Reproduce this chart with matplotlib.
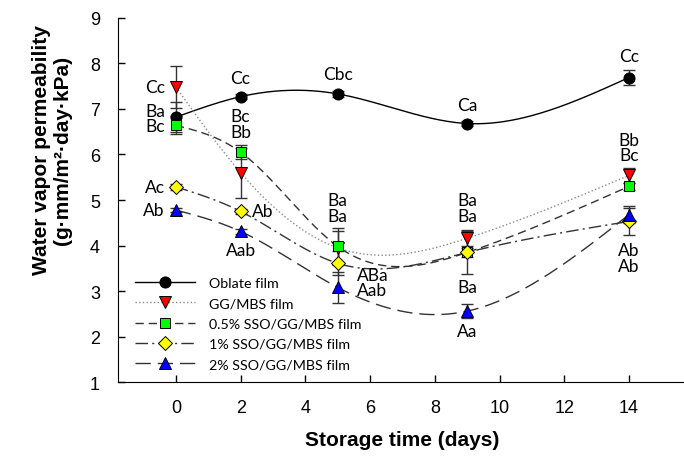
import numpy as np
from matplotlib import pyplot as plt
from matplotlib.lines import Line2D

days = [0, 2, 5, 9, 14]

oblate = [6.82, 7.27, 7.33, 6.68, 7.69]
oblate_err = [0.33, 0.06, 0.06, 0.05, 0.17]

ggmbs = [7.48, 5.60, 3.95, 4.16, 5.54]
ggmbs_err = [0.46, 0.55, 0.36, 0.18, 0.17]

sso05 = [6.64, 6.05, 3.98, 3.85, 5.30]
sso05_err = [0.20, 0.16, 0.40, 0.10, 0.08]

sso1 = [5.29, 4.75, 3.61, 3.85, 4.53]
sso1_err = [0.07, 0.06, 0.26, 0.47, 0.30]

sso2 = [4.78, 4.31, 3.08, 2.56, 4.68]
sso2_err = [0.05, 0.05, 0.35, 0.15, 0.18]

names = ['Oblate film', 'GG/MBS film', '0.5% SSO/GG/MBS film',
         '1% SSO/GG/MBS film', '2% SSO/GG/MBS film']

# significance letters: (day, y position, text, placement)
letters = [
    (0, 7.48, 'Cc', 'right'), (0, 6.95, 'Ba', 'right'), (0, 6.62, 'Bc', 'right'),
    (0, 5.29, 'Ac', 'right'), (0, 4.78, 'Ab', 'right'),
    (2, 7.67, 'Cc', 'center'), (2, 6.84, 'Bc', 'center'), (2, 6.49, 'Bb', 'center'),
    (2, 4.75, 'Ab', 'left'), (2, 3.90, 'Aab', 'center'),
    (5, 7.77, 'Cbc', 'center'), (5, 4.99, 'Ba', 'center'), (5, 4.66, 'Ba', 'center'),
    (5, 3.35, 'ABa', 'left2'), (5, 3.02, 'Aab', 'left2'),
    (9, 7.08, 'Ca', 'center'), (9, 4.99, 'Ba', 'center'), (9, 4.66, 'Ba', 'center'),
    (9, 3.10, 'Ba', 'center'), (9, 2.12, 'Aa', 'center'),
    (14, 8.17, 'Cc', 'center'), (14, 6.31, 'Bb', 'center'), (14, 5.98, 'Bc', 'center'),
    (14, 3.90, 'Ab', 'center'), (14, 3.55, 'Ab', 'center'),
]


def spline(x, y, n=300):
    # natural cubic spline through the points, like SigmaPlot's spline curve
    x = np.asarray(x, float)
    y = np.asarray(y, float)
    k = len(x)
    h = np.diff(x)
    A = np.zeros((k, k))
    b = np.zeros(k)
    A[0, 0] = 1
    A[-1, -1] = 1
    for i in range(1, k - 1):
        A[i, i - 1] = h[i - 1]
        A[i, i] = 2 * (h[i - 1] + h[i])
        A[i, i + 1] = h[i]
        b[i] = 6 * ((y[i + 1] - y[i]) / h[i] - (y[i] - y[i - 1]) / h[i - 1])
    M = np.linalg.solve(A, b)
    xs = np.linspace(x[0], x[-1], n)
    ys = np.zeros_like(xs)
    for j, t in enumerate(xs):
        i = min(np.searchsorted(x, t, side='right') - 1, k - 2)
        a = x[i + 1] - t
        c = t - x[i]
        ys[j] = (M[i] * a**3 + M[i + 1] * c**3) / (6 * h[i]) \
            + (y[i] / h[i] - M[i] * h[i] / 6) * a \
            + (y[i + 1] / h[i] - M[i + 1] * h[i] / 6) * c
    return xs, ys


fig = plt.figure(figsize=(6.84, 4.6), dpi=100)
ax = fig.add_axes([0.1725, 0.167, 0.83, 0.792])

series = [
    (oblate, oblate_err, 'o', 'black', '-', 'black', 8),
    (ggmbs, ggmbs_err, 'v', 'red', ':', '#8a8a8a', 8.5),
    (sso05, sso05_err, 's', '#00ff00', (0, (6, 3.5)), '#333333', 7.5),
    (sso1, sso1_err, 'D', '#ffff00', (0, (9, 3, 1.5, 3)), '#333333', 7),
    (sso2, sso2_err, '^', '#0000ff', (0, (11, 5)), '#333333', 8.5),
]

handles = []
for (vals, err, mk, fc, ls, lc, ms), name in zip(series, names):
    xs, ys = spline(days, vals)
    ax.plot(xs, ys, linestyle=ls, color=lc, lw=1, zorder=2)
    ax.errorbar(days, vals, yerr=err, fmt='none', ecolor='#333333',
                elinewidth=1, capsize=4, capthick=1, zorder=3)
    ax.plot(days, vals, linestyle='none', marker=mk, ms=ms, mfc=fc,
            mec='black', mew=0.7, zorder=4)
    handles.append(Line2D([], [], linestyle=ls, color=lc, lw=1, marker=mk,
                          ms=ms, mfc=fc, mec='black', mew=0.7))

for d, yv, txt, where in letters:
    if where == 'right':
        ax.annotate(txt, (d, yv), xytext=(-8, 0), textcoords='offset points',
                    ha='right', va='center', fontsize=12.5, family='Lato')
    elif where == 'left':
        ax.annotate(txt, (d, yv), xytext=(8, 0), textcoords='offset points',
                    ha='left', va='center', fontsize=12.5, family='Lato')
    elif where == 'left2':
        ax.annotate(txt, (d, yv), xytext=(25, 0), textcoords='offset points',
                    ha='center', va='center', fontsize=12.5, family='Lato')
    else:
        ax.text(d, yv, txt, ha='center', va='center', fontsize=12.5, family='Lato')

ax.set_xlim(-1.79, 15.75)
ax.set_ylim(1, 9)
ax.set_xticks([0, 2, 4, 6, 8, 10, 12, 14])
ax.set_yticks(range(1, 10))
ax.spines['top'].set_visible(False)
ax.spines['right'].set_visible(False)
ax.tick_params(direction='in', length=5, width=1, labelsize=13, pad=12)
ax.tick_params(axis='y', pad=13)
for lab in ax.get_xticklabels() + ax.get_yticklabels():
    lab.set_family('Liberation Sans')

ax.set_xlabel('Storage time (days)', fontsize=15, fontweight='bold',
              family='Liberation Sans', labelpad=10)
fig.text(52 / 684, 1 - 150 / 460, 'Water vapor permeability\n(g\u00b7mm/m\u00b2\u00b7day\u00b7kPa)',
         rotation=90, ha='center', va='center', multialignment='center',
         fontsize=15, fontweight='bold', family='Liberation Sans', linespacing=1.1)

ax.legend(handles, names, loc='upper left', bbox_to_anchor=(135 / 684, 1 - 278 / 460),
          bbox_transform=fig.transFigure, frameon=False, borderpad=0,
          borderaxespad=0, handlelength=4.2, handletextpad=1.0, labelspacing=0.58,
          prop={'family': 'Lato', 'size': 10.3})

fig.savefig('out.png', dpi=100)
